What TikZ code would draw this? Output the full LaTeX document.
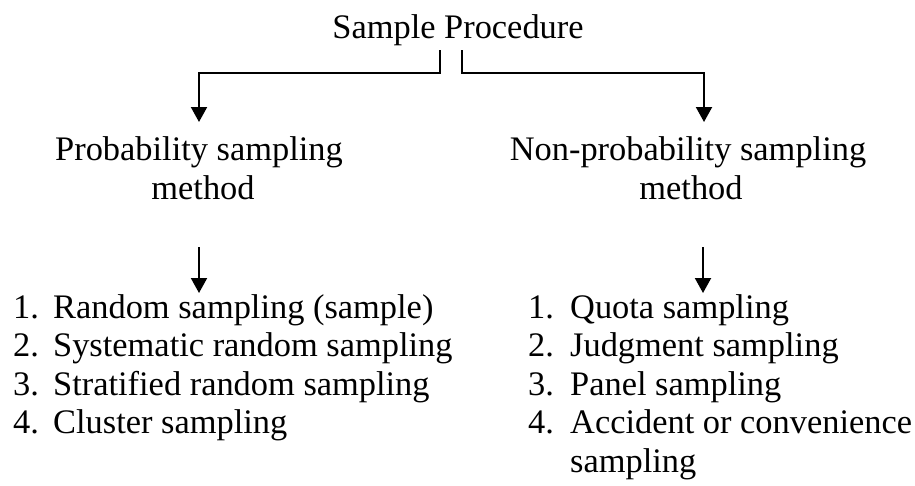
\documentclass[tikz,border=0pt]{standalone}
\usepackage{fontspec}
\setmainfont{Liberation Serif}
\usetikzlibrary{arrows.meta}
\begin{document}
\begin{tikzpicture}[x=1pt,y=-1pt,
  txt/.style={inner sep=0pt, font=\fontsize{34.4}{38.5}\selectfont},
  conn/.style={line width=2pt},
  arr/.style={conn, -{Triangle[width=16pt,length=15pt]}}]
\useasboundingbox[fill=white] (0,0) rectangle (915,485);
% title and headers
\node[txt, anchor=base] (title) at (458,38) {Sample Procedure};
\node[txt, anchor=base] (p1) at (199,160) {Probability sampling};
\node[txt, anchor=base] (p2) at (203,199) {method};
\node[txt, anchor=base] (n1) at (688,160) {Non-probability sampling};
\node[txt, anchor=base] (n2) at (691,199) {method};
% left list
\node[txt, anchor=base west] (l1) at (13,318) {\makebox[40pt][l]{1.}Random sampling (sample)};
\node[txt, anchor=base west] (l2) at (13,356.5) {\makebox[40pt][l]{2.}Systematic random sampling};
\node[txt, anchor=base west] (l3) at (13,395) {\makebox[40pt][l]{3.}Stratified random sampling};
\node[txt, anchor=base west] (l4) at (13,433.5) {\makebox[40pt][l]{4.}Cluster sampling};
% right list
\node[txt, anchor=base west] (r1) at (528,318) {\makebox[42pt][l]{1.}Quota sampling};
\node[txt, anchor=base west] (r2) at (528,356.5) {\makebox[42pt][l]{2.}Judgment sampling};
\node[txt, anchor=base west] (r3) at (528,395) {\makebox[42pt][l]{3.}Panel sampling};
\node[txt, anchor=base west] (r4) at (528,433.5) {\makebox[42pt][l]{4.}Accident or convenience};
\node[txt, anchor=base west] (r5) at (528,472) {\makebox[42pt][l]{}sampling};
% connector points
\coordinate (tl) at (440,50);
\coordinate (tr) at (462,50);
\coordinate (pa) at (199,122);
\coordinate (na) at (704,122);
\coordinate (ps) at (199,247);
\coordinate (pe) at (199,293);
\coordinate (ns) at (703,247);
\coordinate (ne) at (703,293);
% connectors
\draw[arr] (tl) -- ++(0,23) -| (pa);
\draw[arr] (tr) -- ++(0,23) -| (na);
\draw[arr] (ps) -- (pe);
\draw[arr] (ns) -- (ne);
\end{tikzpicture}
\end{document}
